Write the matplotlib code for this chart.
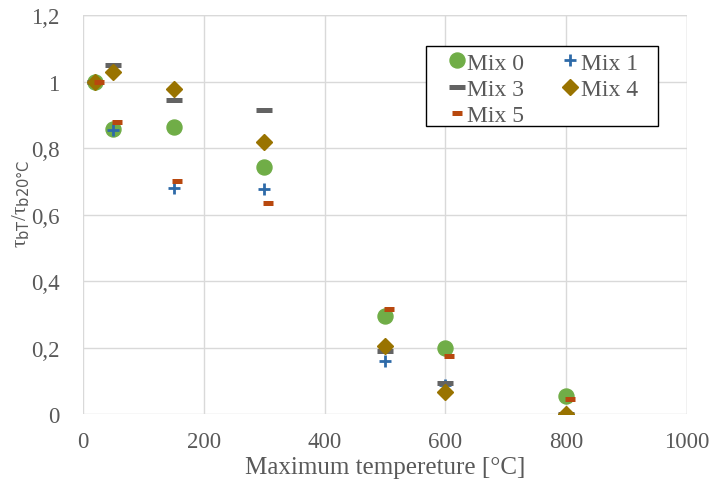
import matplotlib
matplotlib.use("Agg")
import matplotlib.pyplot as plt
from matplotlib.patches import Rectangle

# temperatures (Mix 5 is plotted a bit shifted in the original)
temps = [20, 50, 150, 300, 500, 600, 800]
temps_mix5 = [26, 56, 156, 306, 506, 606, 806]

mix0 = [1.0, 0.857, 0.862, 0.742, 0.296, 0.199, 0.053]
mix1 = [1.0, 0.855, 0.680, 0.678, 0.160, 0.088, 0.0]
mix3 = [1.0, 1.050, 0.943, 0.914, 0.189, 0.095, 0.0]
mix4 = [1.0, 1.028, 0.977, 0.817, 0.205, 0.065, 0.0]
mix5 = [1.0, 0.877, 0.700, 0.636, 0.315, 0.176, 0.045]

xticks = [0, 200, 400, 600, 800, 1000]
yticks = [0, 0.2, 0.4, 0.6, 0.8, 1.0, 1.2]
ytick_labels = ["0", "0,2", "0,4", "0,6", "0,8", "1", "1,2"]

txt = "#595959"
grid = "#d9d9d9"
serif = ["Liberation Serif", "DejaVu Serif"]

fig = plt.figure(figsize=(7.14, 4.81), dpi=100)
ax = fig.add_axes([0.1163, 0.137, 0.8457, 0.8297])

h0, = ax.plot(temps, mix0, "o", ms=10.8, color="#70ad47", mec="#70ad47", label="Mix 0", zorder=3)
h1, = ax.plot(temps, mix1, "+", ms=9, mew=2, color="#2e6aa8", label="Mix 1", zorder=3)
h3, = ax.plot(temps, mix3, "_", ms=11.5, mew=3.6, color="#636363", label="Mix 3", zorder=3)
h4, = ax.plot(temps, mix4, "D", ms=8, color="#997300", mec="#997300", label="Mix 4", zorder=3)
h5, = ax.plot(temps_mix5, mix5, "_", ms=7, mew=3.6, color="#b8480e", label="Mix 5", zorder=3)

ax.set_xlim(0, 1000)
ax.set_ylim(0, 1.2)
ax.set_xticks(xticks)
ax.set_yticks(yticks)
ax.set_yticklabels(ytick_labels)
for lab in ax.get_xticklabels() + ax.get_yticklabels():
    lab.set_family(serif)
    lab.set_fontsize(16.5)
    lab.set_color(txt)
ax.tick_params(length=0)
ax.tick_params(axis="y", pad=17)
ax.tick_params(axis="x", pad=12)
ax.grid(True, color=grid, lw=1)
ax.set_axisbelow(True)
for s in ax.spines.values():
    s.set_visible(False)
# gridlines at the limits too
ax.axhline(1.2, color=grid, lw=1, zorder=0.5)
ax.axvline(1000, color=grid, lw=1, zorder=0.5)

ax.set_xlabel("Maximum tempereture [°C]", family=serif, fontsize=18, color=txt)
ax.xaxis.set_label_coords(0.5, -0.105)
# serif tau, small sans subscripts like the original
ax.set_ylabel(r"τ$_{\rm bT}$/τ$_{\rm b20°C}$", family=serif, fontsize=15, color=txt)
ax.yaxis.set_label_coords(-0.084, 0.53)

# legend box drawn by hand, entries placed inside it
ax.add_patch(Rectangle((0.568, 0.722), 0.384, 0.2, transform=ax.transAxes,
                       facecolor="white", edgecolor="black", lw=1, zorder=4))
# row-wise order like the original legend
leg = ax.legend([h0, h3, h5, h1, h4], ["Mix 0", "Mix 3", "Mix 5", "Mix 1", "Mix 4"],
                ncol=2, loc="upper left", bbox_to_anchor=(0.603, 0.907),
                borderaxespad=0, frameon=False, prop={"family": serif, "size": 17},
                handlelength=0.8, handletextpad=0.05, labelspacing=0.2, borderpad=0,
                columnspacing=1.55)
leg.set_zorder(5)
for t in leg.get_texts():
    t.set_color(txt)

fig.savefig("out.png", dpi=100)
